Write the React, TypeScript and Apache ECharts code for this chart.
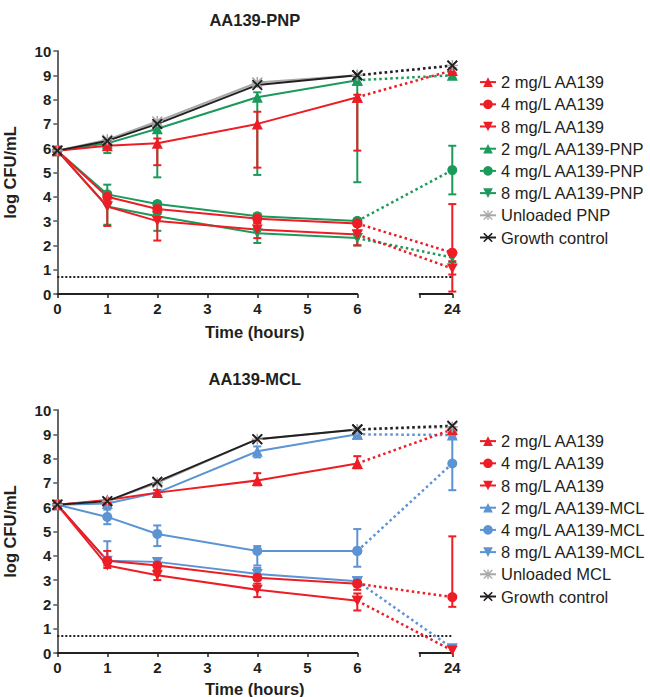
import React, { useEffect, useRef } from 'react';
import * as echarts from 'echarts';

// ---------- data ----------
const hours = [0, 1, 2, 4, 6, 24];
const BREAK_POS = 7.9; // axis position used for the 24 h point after the axis break
const DETECTION_LIMIT = 0.7;
const yTicks = [0, 1, 2, 3, 4, 5, 6, 7, 8, 9, 10];

// Panel 1: AA139-PNP
const pnpAA2 = [5.9, 6.1, 6.2, 7.0, 8.1, 9.2];
const pnpAA4 = [5.9, 4.0, 3.5, 3.1, 2.9, 1.7];
const pnpAA8 = [5.9, 3.6, 3.0, 2.65, 2.45, 1.05];
const pnpNP2 = [5.9, 6.2, 6.8, 8.1, 8.8, 9.0];
const pnpNP4 = [5.9, 4.1, 3.7, 3.2, 3.0, 5.1];
const pnpNP8 = [5.9, 3.6, 3.2, 2.5, 2.3, 1.5];
const pnpUnloaded = [5.9, 6.35, 7.1, 8.7, 9.0, 9.4];
const pnpGrowth = [5.9, 6.3, 7.0, 8.6, 9.0, 9.4];

const pnpAA2Err = [null, [6.0, 6.2], [5.3, 6.4], [5.2, 7.5], [5.9, 8.2], [9.1, 9.3]];
const pnpAA4Err = [null, [3.8, 4.2], [3.3, 3.7], [2.95, 3.3], [2.8, 3.0], [0.1, 3.7]];
const pnpAA8Err = [null, [2.8, 3.8], [2.2, 3.3], [2.3, 2.9], [2.0, 2.9], [0.8, 1.35]];
const pnpNP2Err = [null, [5.8, 6.3], [4.8, 7.0], [4.9, 8.3], [4.6, 8.9], [8.9, 9.1]];
const pnpNP4Err = [null, [3.7, 4.5], [3.6, 3.8], [3.1, 3.3], [2.8, 3.1], [4.1, 6.1]];
const pnpNP8Err = [null, [2.85, 3.9], [2.6, 3.5], [2.1, 2.7], [2.0, 2.6], [1.3, 1.7]];

// Panel 2: AA139-MCL
const mclAA2 = [6.1, 6.3, 6.6, 7.1, 7.8, 9.2];
const mclAA4 = [6.1, 3.8, 3.6, 3.1, 2.85, 2.3];
const mclAA8 = [6.1, 3.6, 3.2, 2.6, 2.15, 0.1];
const mclMC2 = [6.1, 6.15, 6.6, 8.3, 9.0, 8.97];
const mclMC4 = [6.1, 5.6, 4.9, 4.2, 4.2, 7.8];
const mclMC8 = [6.1, 3.8, 3.75, 3.25, 2.95, 0.2];
const mclUnloaded = [6.1, 6.25, 7.0, 8.8, 9.2, 9.3];
const mclGrowth = [6.1, 6.25, 7.05, 8.8, 9.2, 9.35];

const mclAA2Err = [null, [6.2, 6.35], [6.5, 6.7], [6.9, 7.4], [7.6, 8.1], [9.1, 9.3]];
const mclAA4Err = [null, [3.6, 4.2], [3.4, 3.7], [3.0, 3.2], [2.6, 3.0], [1.9, 4.8]];
const mclAA8Err = [null, [3.5, 3.7], [3.0, 3.4], [2.3, 2.85], [1.75, 2.45], null];
const mclMC2Err = [null, [6.05, 6.25], [6.45, 6.7], [8.05, 8.5], [8.9, 9.1], [8.85, 9.1]];
const mclMC4Err = [null, [5.3, 5.9], [4.4, 5.25], [3.6, 4.4], [3.55, 5.1], [6.7, 8.95]];
const mclMC8Err = [null, [3.7, 4.6], [3.6, 3.9], [3.1, 3.5], [2.85, 3.05], null];

// ---------- styles ----------
const RED = '#EE1C25';
const GREEN = '#1B9A5B';
const BLUE = '#5B93D3';
const GRAY = '#A8A8A8';
const BLACK = '#231F20';
const FONT = '"Liberation Sans", Arial, sans-serif';

const SYM_UP = 'triangle';
const SYM_CIRCLE = 'circle';
const SYM_DOWN = 'path://M0,0L10,0L5,9Z';
const SYM_X = 'path://M0,1.2L1.2,0L5,3.8L8.8,0L10,1.2L6.2,5L10,8.8L8.8,10L5,6.2L1.2,10L0,8.8L3.8,5Z';
const SYM_STAR = 'path://M4.3,0L5.7,0L5.7,10L4.3,10ZM0,4.3L10,4.3L10,5.7L0,5.7ZM0,1L1,0L10,9L9,10ZM9,0L10,1L1,10L0,9Z';

const xPos = (h: number) => (h <= 6 ? h : BREAK_POS);

const PANELS = [
  { top: 51, title: 'AA139-PNP', titleY: 19.7, legendTop: 66, xNameGap: 29 },
  { top: 410, title: 'AA139-MCL', titleY: 378.5, legendTop: 425, xNameGap: 27 },
];
const GRID_H = 243;
const GRID_LEFT = 57.3;

type Group = {
  name: string;
  values: number[];
  errors: (number[] | null)[] | null;
  color: string;
  symbol: string;
  size: number | number[];
};

const panelGroups: Group[][] = [
  [
    { name: '2 mg/L AA139-PNP', values: pnpNP2, errors: pnpNP2Err, color: GREEN, symbol: SYM_UP, size: 11 },
    { name: '4 mg/L AA139-PNP', values: pnpNP4, errors: pnpNP4Err, color: GREEN, symbol: SYM_CIRCLE, size: 10 },
    { name: '8 mg/L AA139-PNP', values: pnpNP8, errors: pnpNP8Err, color: GREEN, symbol: SYM_DOWN, size: [11, 10] },
    { name: '2 mg/L AA139', values: pnpAA2, errors: pnpAA2Err, color: RED, symbol: SYM_UP, size: 11 },
    { name: '4 mg/L AA139', values: pnpAA4, errors: pnpAA4Err, color: RED, symbol: SYM_CIRCLE, size: 10 },
    { name: '8 mg/L AA139', values: pnpAA8, errors: pnpAA8Err, color: RED, symbol: SYM_DOWN, size: [11, 10] },
    { name: 'Unloaded PNP', values: pnpUnloaded, errors: null, color: GRAY, symbol: SYM_STAR, size: 11 },
    { name: 'Growth control', values: pnpGrowth, errors: null, color: BLACK, symbol: SYM_X, size: 11 },
  ],
  [
    { name: '2 mg/L AA139-MCL', values: mclMC2, errors: mclMC2Err, color: BLUE, symbol: SYM_UP, size: 11 },
    { name: '4 mg/L AA139-MCL', values: mclMC4, errors: mclMC4Err, color: BLUE, symbol: SYM_CIRCLE, size: 10 },
    { name: '8 mg/L AA139-MCL', values: mclMC8, errors: mclMC8Err, color: BLUE, symbol: SYM_DOWN, size: [11, 10] },
    { name: '2 mg/L AA139', values: mclAA2, errors: mclAA2Err, color: RED, symbol: SYM_UP, size: 11 },
    { name: '4 mg/L AA139', values: mclAA4, errors: mclAA4Err, color: RED, symbol: SYM_CIRCLE, size: 10 },
    { name: '8 mg/L AA139', values: mclAA8, errors: mclAA8Err, color: RED, symbol: SYM_DOWN, size: [11, 10] },
    { name: 'Unloaded MCL', values: mclUnloaded, errors: null, color: GRAY, symbol: SYM_STAR, size: 11 },
    { name: 'Growth control', values: mclGrowth, errors: null, color: BLACK, symbol: SYM_X, size: 11 },
  ],
];

const legendOrder = [
  ['2 mg/L AA139', '4 mg/L AA139', '8 mg/L AA139', '2 mg/L AA139-PNP', '4 mg/L AA139-PNP', '8 mg/L AA139-PNP', 'Unloaded PNP', 'Growth control'],
  ['2 mg/L AA139', '4 mg/L AA139', '8 mg/L AA139', '2 mg/L AA139-MCL', '4 mg/L AA139-MCL', '8 mg/L AA139-MCL', 'Unloaded MCL', 'Growth control'],
];

function buildOption() {
  const grid: any[] = [];
  const xAxis: any[] = [];
  const yAxis: any[] = [];
  const series: any[] = [];
  const legend: any[] = [];
  const graphic: any[] = [];

  const labelStyle = { fontFamily: FONT, fontWeight: 'bold', fontSize: 15, color: BLACK };

  PANELS.forEach((p, pi) => {
    const g0 = pi * 3;
    // main grid (data), left axis segment grid, right axis segment grid
    grid.push({ left: GRID_LEFT, top: p.top, width: 395, height: GRID_H, outerBoundsMode: 'none', containLabel: false });
    grid.push({ left: GRID_LEFT, top: p.top, width: 300, height: GRID_H, outerBoundsMode: 'none', containLabel: false });
    grid.push({ left: 419.5, top: p.top, width: 32.8, height: GRID_H, outerBoundsMode: 'none', containLabel: false });

    xAxis.push({
      type: 'value', gridIndex: g0, min: 0, max: BREAK_POS,
      axisLine: { show: false }, axisTick: { show: false }, axisLabel: { show: false }, splitLine: { show: false },
      name: 'Time (hours)', nameLocation: 'middle', nameGap: p.xNameGap,
      nameTextStyle: { fontFamily: FONT, fontWeight: 'bold', fontSize: 16.5, color: BLACK },
    });
    xAxis.push({
      type: 'value', gridIndex: g0 + 1, min: 0, max: 6, interval: 1,
      axisLine: { show: true, lineStyle: { color: '#222', width: 1.8 } },
      axisTick: { show: true, length: 4, lineStyle: { color: '#222', width: 1.5 } },
      axisLabel: { ...labelStyle, margin: 7 },
      splitLine: { show: false },
    });
    xAxis.push({
      type: 'value', gridIndex: g0 + 2, min: 0, max: 1, interval: 1,
      axisLine: { show: true, lineStyle: { color: '#222', width: 1.8 } },
      axisTick: { show: true, length: 4, lineStyle: { color: '#222', width: 1.5 } },
      axisLabel: { ...labelStyle, margin: 7, formatter: (v: number) => (v === 1 ? String(hours[hours.length - 1]) : '') },
      splitLine: { show: false },
    });

    yAxis.push({
      type: 'value', gridIndex: g0, min: yTicks[0], max: yTicks[yTicks.length - 1], interval: 1,
      axisLine: { show: true, lineStyle: { color: '#555', width: 1.8 } },
      axisTick: { show: true, length: 4, lineStyle: { color: '#555', width: 1.5 } },
      axisLabel: { ...labelStyle, margin: 6 },
      splitLine: { show: false },
      name: 'log CFU/mL', nameLocation: 'middle', nameGap: 39, nameRotate: 90,
      nameTextStyle: { fontFamily: FONT, fontWeight: 'bold', fontSize: 16.5, color: BLACK },
    });
    yAxis.push({ type: 'value', gridIndex: g0 + 1, min: 0, max: 10, show: false });
    yAxis.push({ type: 'value', gridIndex: g0 + 2, min: 0, max: 10, show: false });

    // detection limit
    series.push({
      type: 'line', name: 'LOD' + pi, xAxisIndex: g0, yAxisIndex: g0, silent: true,
      data: [[0, DETECTION_LIMIT], [BREAK_POS, DETECTION_LIMIT]], symbol: 'none',
      lineStyle: { color: BLACK, width: 2, type: [2, 2] },
    });

    panelGroups[pi].forEach((gr) => {
      if (gr.errors) {
        const errData = hours
          .map((h, i) => (gr.errors![i] ? [xPos(h), gr.errors![i]![0], gr.errors![i]![1]] : null))
          .filter(Boolean);
        const col = gr.color;
        series.push({
          type: 'custom', name: gr.name + ' SD', xAxisIndex: g0, yAxisIndex: g0, silent: true,
          encode: { x: 0, y: [1, 2] },
          data: errData,
          renderItem: (params: any, api: any) => {
            const x = api.value(0);
            const a = api.coord([x, api.value(2)]);
            const b = api.coord([x, api.value(1)]);
            const w = 4;
            const style = { stroke: col, lineWidth: 2 };
            return {
              type: 'group',
              children: [
                { type: 'line', shape: { x1: a[0], y1: a[1], x2: b[0], y2: b[1] }, style },
                { type: 'line', shape: { x1: a[0] - w, y1: a[1], x2: a[0] + w, y2: a[1] }, style },
                { type: 'line', shape: { x1: b[0] - w, y1: b[1], x2: b[0] + w, y2: b[1] }, style },
              ],
            };
          },
        });
      }
      const pts = hours.map((h, i) => [xPos(h), gr.values[i]]);
      series.push({
        type: 'line', name: gr.name, xAxisIndex: g0, yAxisIndex: g0,
        data: pts.slice(0, 5), symbol: gr.symbol, symbolSize: gr.size, showSymbol: true,
        itemStyle: { color: gr.color }, lineStyle: { color: gr.color, width: 2 },
      });
      series.push({
        type: 'line', name: gr.name + ' (24 h)', xAxisIndex: g0, yAxisIndex: g0,
        data: pts.slice(4), symbol: gr.symbol, symbolSize: gr.size, showSymbol: true,
        itemStyle: { color: gr.color }, lineStyle: { color: gr.color, width: 2.5, type: [2.5, 3] },
      });
    });

    legend.push({
      orient: 'vertical', left: 474, top: p.legendTop, itemWidth: 16, itemHeight: 12, itemGap: 0,
      data: legendOrder[pi], selectedMode: false,
      textStyle: { fontFamily: FONT, fontSize: 16.5, color: BLACK, lineHeight: 22.2 },
    });

    graphic.push({
      type: 'text', x: GRID_LEFT + 395 / 2, y: p.titleY,
      style: { text: p.title, fontFamily: FONT, fontWeight: 'bold', fontSize: 16.5, fill: BLACK, align: 'center', verticalAlign: 'middle' },
    });
  });

  return { animation: false, backgroundColor: '#fff', grid, xAxis, yAxis, series, legend, graphic };
}

export default function App() {
  const ref = useRef<HTMLDivElement>(null);
  useEffect(() => {
    if (!ref.current) return;
    const chart = echarts.init(ref.current, undefined, { renderer: 'svg' });
    chart.setOption(buildOption() as any);
    return () => chart.dispose();
  }, []);
  return <div ref={ref} style={{ position: 'absolute', left: 0, top: 0, width: 650, height: 697 }} />;
}
